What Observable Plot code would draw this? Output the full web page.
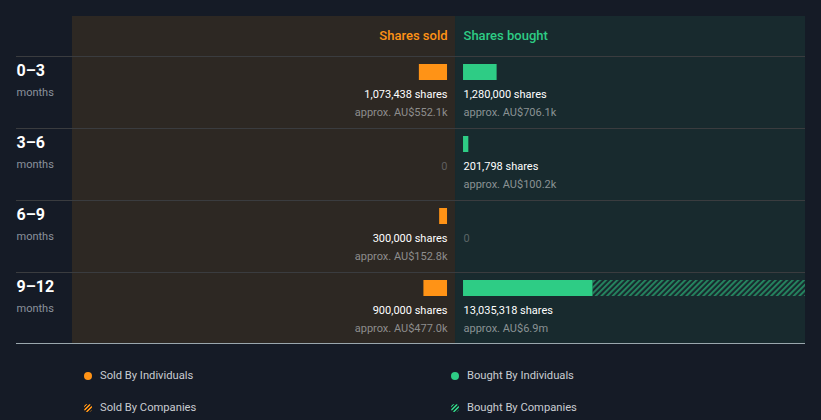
<!DOCTYPE html>
<html><head><meta charset="utf-8">
<script src="https://cdn.jsdelivr.net/npm/d3@7"></script>
<script src="https://cdn.jsdelivr.net/npm/@observablehq/plot@0.6"></script>
<style>
body{margin:0;background:#151b26;font-family:Roboto,sans-serif;}
#chart{width:821px;height:350px;}
#legend{position:relative;width:821px;height:70px;}
.item{position:absolute;font-size:11.2px;color:#c9ccd1;height:14px;line-height:14px;}
.sw{position:absolute;left:0;top:3px;width:8px;height:8px;border-radius:4px;}
.lbl{position:absolute;left:16px;top:0;white-space:nowrap;}
</style></head><body><div id="chart"></div><div id="legend"></div>
<script>
const periods = ["0–3", "3–6", "6–9", "9–12"];
const soldShares = [1073438, 0, 300000, 900000];
const soldByCompanies = [0, 0, 0, 0];
const soldValue = ["approx. AU$552.1k", "", "approx. AU$152.8k", "approx. AU$477.0k"];
const boughtShares = [1280000, 201798, 0, 13035318];
const boughtByCompanies = [0, 0, 0, 8100000];
const boughtValue = ["approx. AU$706.1k", "approx. AU$100.2k", "", "approx. AU$6.9m"];
const headers = ["Shares sold", "Shares bought"];
const legendLabels = ["Sold By Individuals", "Bought By Individuals", "Sold By Companies", "Bought By Companies"];

const ORANGE = "#ff9316", GREEN = "#2ecc85";
const xDomain = [-14600000, 13340000];

const rows = periods.map((p, i) => ({
  period: p,
  sold: soldShares[i],
  soldCo: soldByCompanies[i],
  soldInd: soldShares[i] - soldByCompanies[i],
  bought: boughtShares[i],
  boughtCo: boughtByCompanies[i],
  boughtInd: boughtShares[i] - boughtByCompanies[i],
  soldValue: soldValue[i],
  boughtValue: boughtValue[i]
}));
const fmt = d3.format(",");
const panels = [
  {a: xDomain[0], b: 0, fill: "#2d2823"},
  {a: 0, b: xDomain[1], fill: "#182a2e"}
];

const chart = Plot.plot({
  width: 821, height: 350,
  marginLeft: 72, marginRight: 16, marginTop: 16, marginBottom: 6,
  style: {fontFamily: "Roboto, sans-serif", background: "transparent", overflow: "visible"},
  x: {domain: xDomain, axis: null},
  y: {domain: periods, range: [56, 344], padding: 0, axis: null},
  marks: [
    Plot.rect(panels, {x1: "a", x2: "b", fill: "fill"}),
    Plot.barX(periods, {y: d => d, x1: () => xDomain[0], x2: () => xDomain[1], fill: "#3a3c3f", insetBottom: 71, insetLeft: -56}),
    Plot.barX(periods.slice(-1), {y: d => d, x1: () => xDomain[0], x2: () => xDomain[1], fill: "#9aa7ad", insetTop: 71, insetLeft: -56}),
    // header
    Plot.text(headers.slice(0, 1), {x: () => 0, frameAnchor: "top", dy: 19, dx: -8, lineAnchor: "middle", textAnchor: "end", text: d => d, fill: ORANGE, fontWeight: 500, fontSize: 13}),
    Plot.text(headers.slice(1), {x: () => 0, frameAnchor: "top", dy: 19, dx: 8, lineAnchor: "middle", textAnchor: "start", text: d => d, fill: GREEN, fontWeight: 500, fontSize: 13}),
    // row labels
    Plot.text(periods, {y: d => d, frameAnchor: "left", dx: -56, dy: -22, textAnchor: "start", text: d => d, fill: "#ffffff", fontWeight: "bold", fontSize: 16}),
    Plot.text(periods, {y: d => d, frameAnchor: "left", dx: -56, dy: 0, textAnchor: "start", text: () => "months", fill: "#8b929c", fontSize: 11}),
    // bars
    Plot.barX(rows.filter(d => d.soldInd > 0), {y: "period", x1: d => -d.soldInd, x2: () => 0, dx: -8, fill: ORANGE, insetTop: 8, insetBottom: 48}),
    Plot.barX(rows.filter(d => d.soldCo > 0), {y: "period", x1: d => -d.sold, x2: d => -d.soldInd, dx: -8, fill: "url(#hatchO)", insetTop: 8, insetBottom: 48}),
    Plot.barX(rows.filter(d => d.boughtInd > 0), {y: "period", x1: () => 0, x2: "boughtInd", dx: 8, fill: GREEN, insetTop: 8, insetBottom: 48}),
    Plot.barX(rows.filter(d => d.boughtCo > 0), {y: "period", x1: "boughtInd", x2: "bought", dx: 8, fill: "url(#hatchG)", insetTop: 8, insetBottom: 48}),
    // sold labels
    Plot.text(rows, {y: "period", x: () => 0, dx: -8, dy: 2, textAnchor: "end", text: d => d.sold > 0 ? fmt(d.sold) + " shares" : "0", fill: d => d.sold > 0 ? "#ffffff" : "#5f5f5f", fontSize: 11}),
    Plot.text(rows.filter(d => d.sold > 0), {y: "period", x: () => 0, dx: -8, dy: 20, textAnchor: "end", text: "soldValue", fill: "#8d8d8d", fontSize: 11}),
    // bought labels
    Plot.text(rows, {y: "period", x: () => 0, dx: 8, dy: 2, textAnchor: "start", text: d => d.bought > 0 ? fmt(d.bought) + " shares" : "0", fill: d => d.bought > 0 ? "#ffffff" : "#5b6566", fontSize: 11}),
    Plot.text(rows.filter(d => d.bought > 0), {y: "period", x: () => 0, dx: 8, dy: 20, textAnchor: "start", text: "boughtValue", fill: "#8a9294", fontSize: 11})
  ]
});

// hatch patterns
const NS = "http://www.w3.org/2000/svg";
const defs = document.createElementNS(NS, "defs");
[["hatchG", GREEN], ["hatchO", ORANGE]].forEach(([id, c]) => {
  const p = document.createElementNS(NS, "pattern");
  p.setAttribute("id", id);
  p.setAttribute("patternUnits", "userSpaceOnUse");
  p.setAttribute("width", "4");
  p.setAttribute("height", "4");
  p.setAttribute("patternTransform", "rotate(45)");
  const l = document.createElementNS(NS, "rect");
  l.setAttribute("x", "0"); l.setAttribute("y", "0");
  l.setAttribute("width", "1.8"); l.setAttribute("height", "4");
  l.setAttribute("fill", c); l.setAttribute("fill-opacity", "0.6");
  p.appendChild(l);
  defs.appendChild(p);
});
chart.insertBefore(defs, chart.firstChild);
document.getElementById("chart").appendChild(chart);

// legend
const legend = document.getElementById("legend");
const pos = [[84, 19], [451, 19], [84, 51], [451, 51]];
const swatch = [
  `background:${ORANGE}`,
  `background:${GREEN}`,
  `background:repeating-linear-gradient(-45deg, ${ORANGE} 0 1.5px, #2a2620 1.5px 3px)`,
  `background:repeating-linear-gradient(-45deg, ${GREEN} 0 1.5px, #17302a 1.5px 3px)`
];
legendLabels.forEach((t, i) => {
  const it = document.createElement("div");
  it.className = "item";
  it.style.left = pos[i][0] + "px";
  it.style.top = pos[i][1] + "px";
  it.innerHTML = `<div class="sw" style="${swatch[i]}"></div><div class="lbl"></div>`;
  it.querySelector(".lbl").textContent = t;
  legend.appendChild(it);
});
</script></body></html>
